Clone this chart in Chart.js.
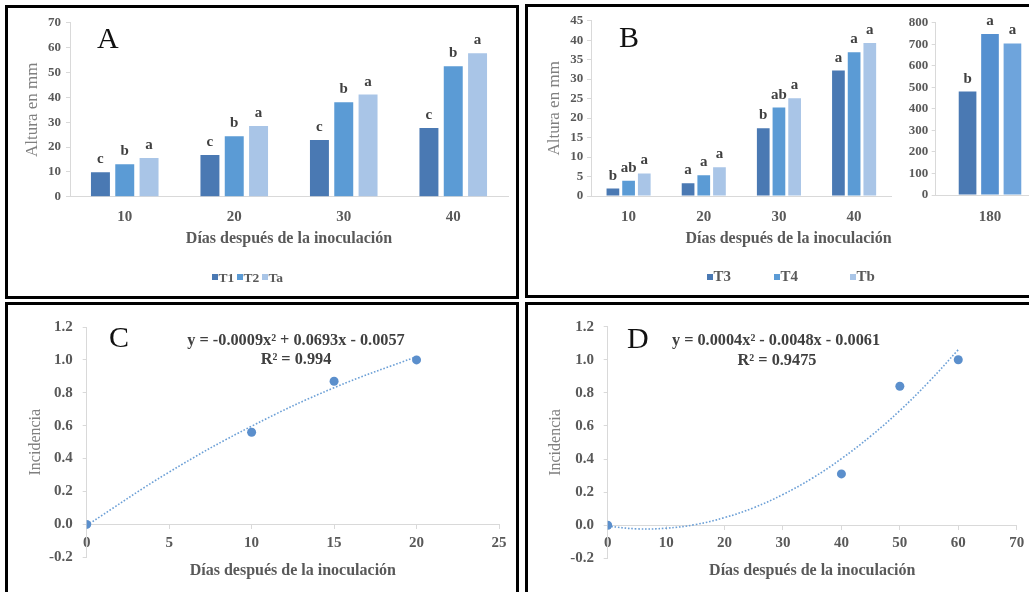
<!DOCTYPE html>
<html><head><meta charset="utf-8">
<script src="https://cdn.jsdelivr.net/npm/chart.js@4.4.1/dist/chart.umd.min.js"></script>
<style>
html,body{margin:0;padding:0;background:#fff;}
#page{position:relative;width:1029px;height:592px;overflow:hidden;background:#fff;}
canvas{position:absolute;}
.box{position:absolute;box-sizing:border-box;border:3px solid #000;}
.txt{position:absolute;white-space:nowrap;font-family:"Liberation Serif","Times New Roman",serif;line-height:1;}
.mk{position:absolute;width:6px;height:6px;}
</style></head>
<body><div id="page"></div>
<script>
// ---------- DATA ----------
const daysAB = ['10', '20', '30', '40'];
// Panel A
const T1 = [9.8, 16.8, 22.8, 27.7];
const T2 = [13.1, 24.3, 38.0, 52.5];
const Ta = [15.6, 28.5, 41.1, 57.7];
const T1sig = ['c', 'c', 'c', 'c'];
const T2sig = ['b', 'b', 'b', 'b'];
const Tasig = ['a', 'a', 'a', 'a'];
// Panel B
const T3 = [1.9, 3.3, 17.4, 32.2];
const T4 = [3.9, 5.3, 22.7, 36.9];
const Tb = [5.8, 7.4, 25.1, 39.3];
const T3sig = ['b', 'a', 'b', 'a'];
const T4sig = ['ab', 'a', 'ab', 'a'];
const Tbsig = ['a', 'a', 'a', 'a'];
// Panel B inset (180 days)
const day180 = ['180'];
const T3_180 = [480];
const T4_180 = [748];
const Tb_180 = [704];
const T3sig180 = ['b'];
const T4sig180 = ['a'];
const Tbsig180 = ['a'];
// Panel C
const daysC = [0, 10, 15, 20];
const incC = [0, 0.56, 0.87, 1.0];
const trendCx = [0, 5, 10, 15, 20];
const trendCy = [-0.006, 0.318, 0.597, 0.831, 1.02];
const eqC = 'y = -0.0009x² + 0.0693x - 0.0057';
const r2C = 'R² = 0.994';
// Panel D
const daysD = [0, 40, 50, 60];
const incD = [0, 0.31, 0.84, 1.0];
const trendDx = [0, 5, 10, 15, 20, 25, 30, 35, 40, 45, 50, 55, 60];
const trendDy = [-0.006, -0.022, -0.018, 0.004, 0.046, 0.106, 0.186, 0.284, 0.402, 0.538, 0.693, 0.868, 1.061];
const eqD = 'y = 0.0004x² - 0.0048x - 0.0061';
const r2D = 'R² = 0.9475';
const xTitle = 'Días después de la inoculación';

// ---------- STYLE ----------
const SERIF = "'Liberation Serif','Times New Roman',serif";
const cDark = '#4a79b3', cMid = '#5b9bd5', cLight = '#a9c5e7';
const axisCol = '#d9d9d9', tickCol = '#595959', titleCol = '#808080';
const page = document.getElementById('page');

function addCanvas(r) {
  const c = document.createElement('canvas');
  c.width = r.w; c.height = r.h;
  c.style.left = r.x + 'px'; c.style.top = r.y + 'px';
  c.style.width = r.w + 'px'; c.style.height = r.h + 'px';
  page.appendChild(c);
  return c;
}
function txt(s, x, base, fs, opt) {
  opt = opt || {};
  const d = document.createElement('div');
  d.className = 'txt';
  d.textContent = s;
  d.style.fontSize = fs + 'px';
  d.style.fontWeight = opt.bold ? 'bold' : 'normal';
  d.style.color = opt.color || '#404040';
  d.style.top = (base - 0.8375 * fs) + 'px';
  d.style.left = x + 'px';
  if (opt.center) d.style.transform = 'translateX(-50%)';
  page.appendChild(d);
}
function box(x, y, w, h) {
  const d = document.createElement('div');
  d.className = 'box';
  d.style.left = x + 'px'; d.style.top = y + 'px';
  d.style.width = w + 'px'; d.style.height = h + 'px';
  page.appendChild(d);
}
function legendItem(color, mx, label, base, fs) {
  const m = document.createElement('div');
  m.className = 'mk';
  m.style.background = color;
  m.style.left = mx + 'px'; m.style.top = (base - 8) + 'px';
  page.appendChild(m);
  txt(label, mx + 6.5, base, fs, {bold: true, color: tickCol});
}

const sigPlugin = {
  id: 'sig',
  afterDatasetsDraw(chart) {
    const ctx = chart.ctx;
    chart.data.datasets.forEach((ds, i) => {
      if (!ds.sig) return;
      chart.getDatasetMeta(i).data.forEach((el, j) => {
        ctx.save();
        ctx.font = 'bold 15px ' + SERIF;
        ctx.fillStyle = '#404040';
        ctx.textAlign = 'center';
        ctx.textBaseline = 'alphabetic';
        ctx.fillText(ds.sig[j], el.x, el.y - 9);
        ctx.restore();
      });
    });
  }
};

function barChart(r, area, o) {
  const c = addCanvas(r);
  const yW = area.l - r.x;
  const xH = 55;
  new Chart(c, {
    type: 'bar',
    data: {
      labels: o.labels,
      datasets: o.series.map(s => ({
        label: s.name, data: s.data, sig: s.sig,
        backgroundColor: s.color, borderWidth: 0,
        categoryPercentage: o.cp, barPercentage: o.bp
      }))
    },
    options: {
      responsive: false, animation: false, devicePixelRatio: 1,
      layout: {padding: {left: 0, top: area.t - r.y, right: r.x + r.w - area.r, bottom: r.y + r.h - area.b - xH}},
      plugins: {legend: {display: false}, tooltip: {enabled: false}},
      scales: {
        x: {
          grid: {drawOnChartArea: false, drawTicks: false},
          border: {color: axisCol, width: 1},
          ticks: {color: tickCol, font: {family: SERIF, size: 15, weight: 'bold'}, padding: o.xPad},
          title: o.xTitle ? {display: true, text: xTitle, align: o.xAlign || 'center', color: tickCol,
                  font: {family: SERIF, size: 16, weight: 'bold'}, padding: {top: 0, bottom: o.xtPad}} : {display: false},
          afterFit(s) { s.height = xH; }
        },
        y: {
          min: 0, max: o.max,
          grid: {drawOnChartArea: false, drawTicks: true, tickLength: 4, color: axisCol},
          border: {color: axisCol, width: 1},
          ticks: {stepSize: o.step, color: tickCol, font: {family: SERIF, size: 13, weight: 'bold'}, padding: o.yPad},
          title: o.yTitle ? {display: true, text: 'Altura en mm', color: titleCol,
                  font: {family: SERIF, size: 17}, padding: {top: o.ytPad, bottom: 0}} : {display: false},
          afterFit(s) { s.width = yW; }
        }
      }
    },
    plugins: [sigPlugin]
  });
}

function scatterChart(r, area, o) {
  const c = addCanvas(r);
  const yW = area.l - r.x;
  new Chart(c, {
    type: 'scatter',
    data: {
      datasets: [
        {data: o.xs.map((x, i) => ({x: x, y: o.ys[i]})), backgroundColor: '#5b8fcc', borderWidth: 0, pointRadius: 4.5},
        {data: o.tx.map((x, i) => ({x: x, y: o.ty[i]})), showLine: true, pointRadius: 0, borderColor: '#6b9fd6',
         borderWidth: 1.6, borderDash: [1.6, 1.8], tension: 0.4, fill: false}
      ]
    },
    options: {
      responsive: false, animation: false, devicePixelRatio: 1,
      layout: {padding: {left: 0, top: area.t - r.y, right: r.x + r.w - area.r, bottom: r.y + r.h - area.b}},
      plugins: {legend: {display: false}, tooltip: {enabled: false}},
      scales: {
        x: {
          type: 'linear', position: {y: 0}, min: 0, max: o.xmax,
          grid: {drawOnChartArea: false, drawTicks: true, tickLength: 4, color: axisCol},
          border: {color: axisCol, width: 1},
          ticks: {stepSize: o.xstep, color: tickCol, font: {family: SERIF, size: 15, weight: 'bold'}, padding: o.xPad},
          title: {display: true, text: xTitle, color: tickCol, font: {family: SERIF, size: 16, weight: 'bold'}, padding: {top: 0, bottom: 2}},
          afterFit(s) { s.height = o.xH; }
        },
        y: {
          min: -0.2, max: 1.2,
          grid: {drawOnChartArea: false, drawTicks: true, tickLength: 4, color: axisCol},
          border: {color: axisCol, width: 1},
          ticks: {stepSize: 0.2, color: tickCol, font: {family: SERIF, size: 15, weight: 'bold'}, padding: o.yPad,
                  callback: v => (Math.round(v * 10) / 10).toFixed(1)},
          title: {display: true, text: 'Incidencia', color: titleCol, font: {family: SERIF, size: 16}, padding: {top: o.ytPad, bottom: 0}},
          afterFit(s) { s.width = yW; }
        }
      }
    }
  });
}

// ---------- PANEL A ----------
barChart({x: 10, y: 10, w: 507, h: 275}, {l: 70, r: 508, t: 21.7, b: 196.7}, {
  labels: daysAB, max: 70, step: 10, cp: 0.666, bp: 0.78,
  series: [{name: 'T1', data: T1, sig: T1sig, color: cDark},
           {name: 'T2', data: T2, sig: T2sig, color: cMid},
           {name: 'Ta', data: Ta, sig: Tasig, color: cLight}],
  xPad: 11.3, xTitle: true, xtPad: 3.1, yPad: 5, yTitle: true, ytPad: 12.8
});
// ---------- PANEL B ----------
barChart({x: 530, y: 8, w: 370, h: 277}, {l: 591, r: 891.7, t: 20.7, b: 196}, {
  labels: daysAB, max: 45, step: 5, cp: 0.626, bp: 0.81,
  series: [{name: 'T3', data: T3, sig: T3sig, color: cDark},
           {name: 'T4', data: T4, sig: T4sig, color: cMid},
           {name: 'Tb', data: Tb, sig: Tbsig, color: cLight}],
  xPad: 11.7, xTitle: true, xAlign: 'end', xtPad: 2.1, yPad: 3.7, yTitle: true, ytPad: 14.1
});
barChart({x: 895, y: 8, w: 160, h: 277}, {l: 935.7, r: 1044.3, t: 22.7, b: 195}, {
  labels: day180, max: 800, step: 100, cp: 0.62, bp: 0.787,
  series: [{name: 'T3', data: T3_180, sig: T3sig180, color: cDark},
           {name: 'T4', data: T4_180, sig: T4sig180, color: '#5590d0'},
           {name: 'Tb', data: Tb_180, sig: Tbsig180, color: '#6ea4dc'}],
  xPad: 12.7, xTitle: false, yPad: 3.4, yTitle: false
});
// ---------- PANEL C ----------
scatterChart({x: 10, y: 308, w: 510, h: 282}, {l: 86.7, r: 499, t: 319, b: 557.3}, {
  xs: daysC, ys: incC, tx: trendCx, ty: trendCy, xmax: 25, xstep: 5,
  xPad: 6, xH: 57.6, yPad: 10, ytPad: 16.4
});
// ---------- PANEL D ----------
scatterChart({x: 530, y: 308, w: 520, h: 282}, {l: 607.7, r: 1016.7, t: 319, b: 558.3}, {
  xs: daysD, ys: incD, tx: trendDx, ty: trendDy, xmax: 70, xstep: 10,
  xPad: 5.2, xH: 57.5, yPad: 9.7, ytPad: 16.1
});

// ---------- ANNOTATIONS ----------
txt('A', 97, 48, 30, {color: '#111'});
txt('B', 619, 47, 30, {color: '#111'});
txt('C', 109, 347, 30, {color: '#111'});
txt('D', 627, 348, 30, {color: '#111'});
txt(eqC, 296, 345.5, 16.3, {bold: true, center: true});
txt(r2C, 296, 364.5, 16.3, {bold: true, center: true});
txt(eqD, 776, 345.7, 16.3, {bold: true, center: true});
txt(r2D, 777, 365.5, 16.3, {bold: true, center: true});
legendItem(cDark, 212, 'T1', 282, 13.5);
legendItem(cMid, 237, 'T2', 282, 13.5);
legendItem(cLight, 262, 'Ta', 282, 13.5);
legendItem(cDark, 707, 'T3', 282, 15);
legendItem(cMid, 774, 'T4', 282, 15);
legendItem(cLight, 850, 'Tb', 282, 15);

// ---------- PANEL BORDERS ----------
box(5, 5, 514, 294);
box(525, 4, 520, 294);
box(5, 302, 514, 300);
box(525, 302, 520, 300);
</script>
</body></html>
